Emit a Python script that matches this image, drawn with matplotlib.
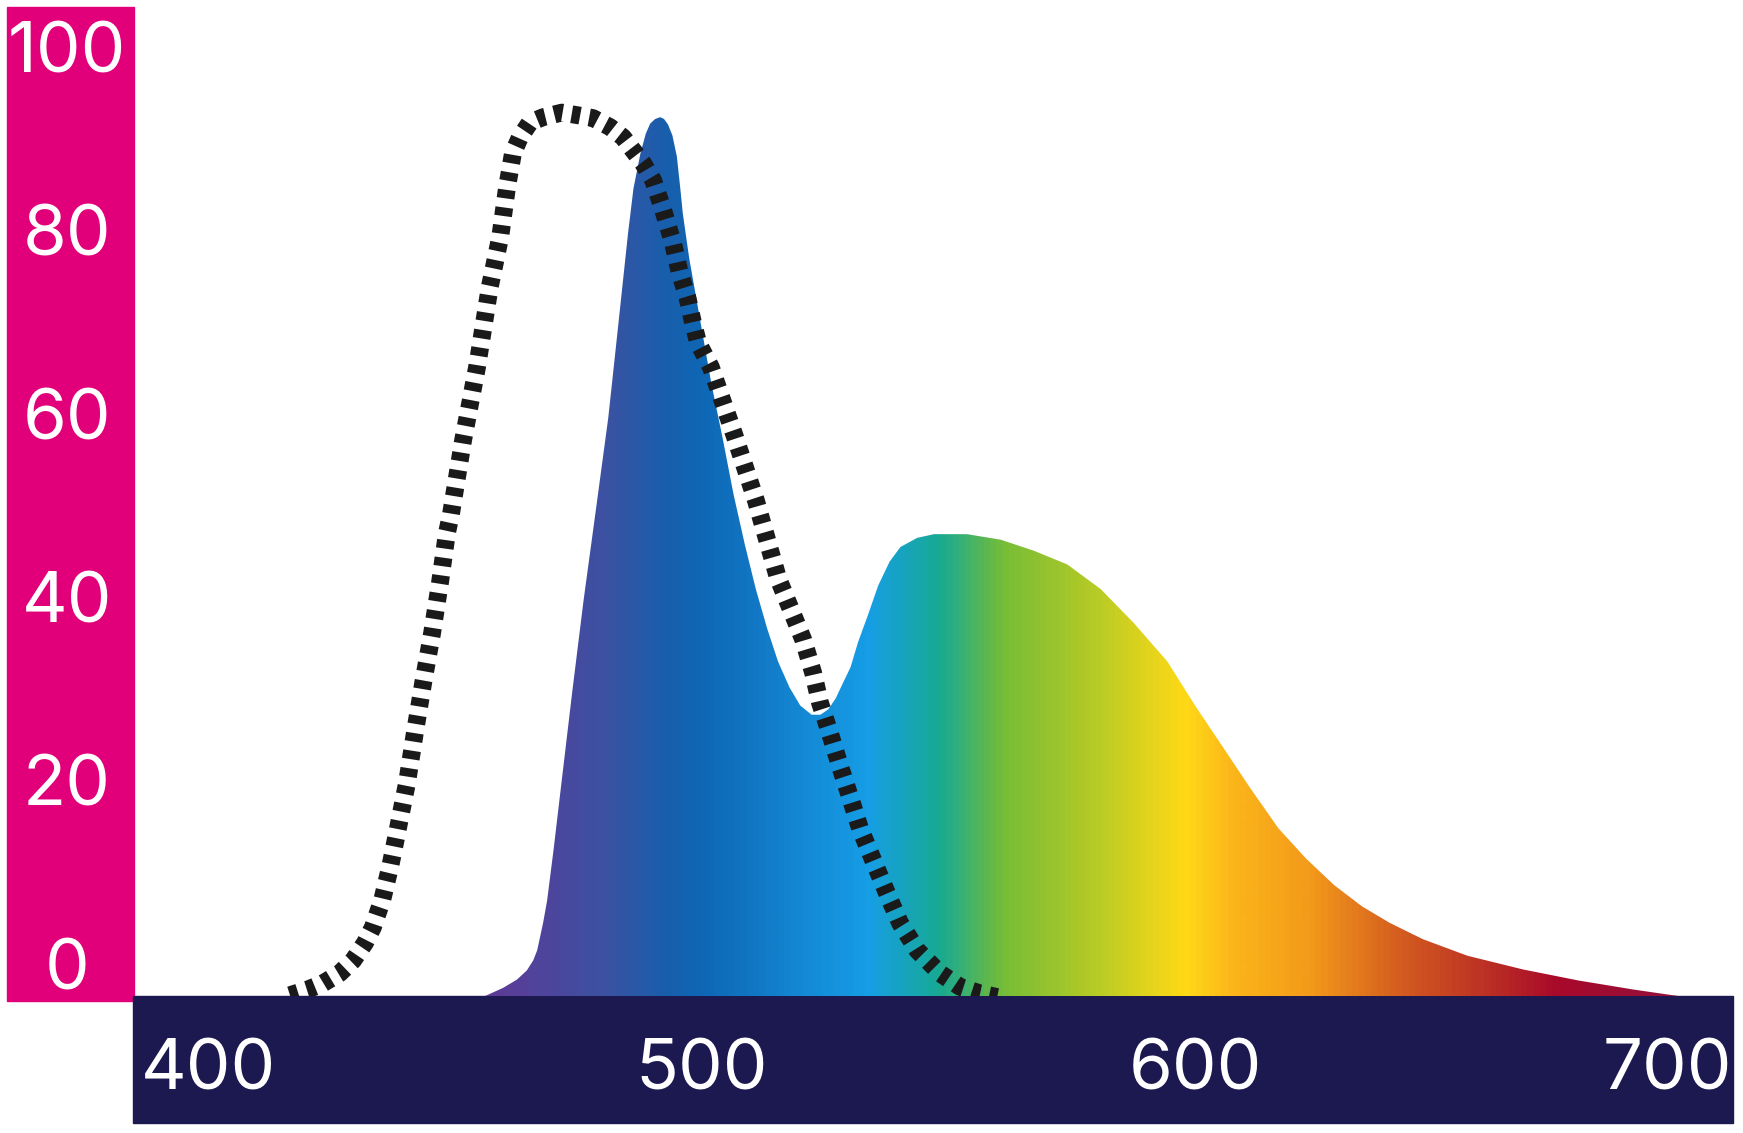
import matplotlib.pyplot as plt
import numpy as np
from matplotlib.colors import LinearSegmentedColormap, Normalize
from matplotlib.patches import Rectangle

# emission spectrum (wavelength nm, relative intensity)
spec_nm = [455.7, 459.8, 462.6, 464.6, 465.9, 466.7, 467.9, 468.7, 470.0, 471.6,
           473.8, 476.1, 478.6, 481.1, 483.1, 485.1, 486.2, 487.6, 488.7, 489.6,
           490.6, 491.6, 492.4, 493.2, 494.1, 495.0, 495.7, 496.2, 497.5, 499.8,
           502.0, 504.3, 506.5, 508.8, 511.0, 513.3, 515.5, 517.8, 520.0, 522.3,
           524.1, 525.7, 527.2, 528.6, 530.2, 531.7, 533.6, 535.8, 538.1, 540.3,
           543.7, 547.1, 553.8, 560.6, 567.3, 574.1, 580.9, 587.6, 594.4, 600.0,
           605.6, 611.3, 616.9, 622.5, 628.2, 633.8, 639.4, 646.2, 655.2, 666.5,
           677.7, 689.0, 698.0]
spec_val = [-3.6, -2.6, -1.7, -0.7, 0.4, 1.5, 4.5, 6.9, 12.4, 19.7,
            29.7, 39.7, 49.6, 59.6, 69.6, 79.7, 84.6, 88.4, 90.6, 91.7,
            92.2, 92.4, 92.2, 91.6, 90.4, 88.1, 84.6, 81.9, 77.0, 70.0,
            63.3, 57.3, 51.2, 45.7, 40.9, 36.6, 33.0, 30.2, 28.2, 27.2,
            27.2, 27.8, 29.0, 30.6, 32.4, 35.1, 37.9, 41.3, 43.9, 45.5,
            46.5, 46.9, 46.9, 46.3, 45.1, 43.6, 40.9, 37.2, 33.0, 28.2,
            23.7, 19.1, 14.8, 11.5, 8.6, 6.3, 4.5, 2.7, 0.9, -0.6,
            -1.8, -2.8, -3.5]

# sensitivity curve (dotted)
sens_nm = [416.6, 420.1, 423.3, 426.7, 429.4, 431.8, 433.4, 435.3, 436.9, 438.3,
           440.3, 441.9, 443.6, 445.4, 447.0, 448.4, 449.2, 451.7, 454.5, 457.1,
           459.2, 460.6, 461.8, 463.2, 465.2, 467.9, 471.7, 475.0, 478.0, 481.5,
           484.1, 486.1, 488.1, 490.2, 492.2, 494.2, 495.6, 497.1, 498.3, 499.3,
           501.9, 506.6, 511.0, 515.5, 520.6, 522.6, 524.0, 526.0, 528.1, 530.1,
           532.1, 534.8, 537.6, 540.2, 543.7, 548.3, 552.4, 556.4, 559.9]
sens_val = [-3.4, -2.8, -2.1, -1.0, 0.4, 2.3, 4.0, 7.0, 10.6, 14.3,
            19.7, 25.2, 30.7, 36.1, 41.6, 47.0, 49.0, 57.2, 65.1, 73.9,
            79.3, 84.8, 88.5, 90.2, 91.8, 92.4, 92.9, 92.6, 92.3, 91.3,
            90.2, 88.8, 87.4, 85.5, 82.3, 78.7, 75.4, 72.8, 69.9, 67.8,
            65.1, 57.8, 50.6, 42.1, 35.4, 31.8, 28.5, 25.2, 21.5, 18.2,
            14.8, 11.3, 7.7, 4.5, 1.5, -1.0, -2.5, -3.2, -3.6]

x_ticks = [400, 500, 600, 700]
y_ticks = [0, 20, 40, 60, 80, 100]

# spectral colours along the wavelength axis
grad_nm = [456.3, 471.3, 480.4, 491.6, 499.7, 509.8, 520.0, 533.7, 548.3,
           561.5, 578.7, 598.0, 608.1, 623.3, 642.6, 661.8, 674.0, 694.2]
grad_col = ["#5e3a96", "#4a489e", "#3b52a2", "#1a5eab", "#0e67b5", "#1176c3",
            "#1488d4", "#169ee6", "#18aa92", "#78bd36", "#b2ca27", "#ffd916",
            "#fbb51a", "#f39a1a", "#d35a20", "#b82a25", "#a8092a", "#96103a"]

PINK = "#e2007a"
NAVY = "#1c1850"
FONT = ["Inter", "DejaVu Sans"]

W, H = 1743, 1133
fig = plt.figure(figsize=(W / 100, H / 100), dpi=100)
fig.patch.set_facecolor("white")
ax = fig.add_axes([134 / W, 1 - 996 / H, 1599 / W, 989 / H])
ax.patch.set_alpha(0)

xlim = (385.0, 709.0)
ylim = (-3.49, 104.42)
ax.set_xlim(*xlim)
ax.set_ylim(*ylim)
ax.axis("off")

# coloured boxes behind the tick labels
fig.add_artist(Rectangle((7 / W, 1 - 1001 / H), 127 / W, 994 / H,
                         transform=fig.transFigure, color=PINK, zorder=-1))
fig.add_artist(Rectangle((133 / W, 1 - 1123 / H), 1600 / W, 127 / H,
                         transform=fig.transFigure, color=NAVY, zorder=-1))

# gradient fill clipped by the spectrum
lo, hi = xlim
stops = [0.0] + [(v - lo) / (hi - lo) for v in grad_nm] + [1.0]
cols = [grad_col[0]] + grad_col + [grad_col[-1]]
cmap = LinearSegmentedColormap.from_list("spec", list(zip(stops, cols)))
grad = np.linspace(lo, hi, 1600)[None, :]
im = ax.imshow(grad, extent=[lo, hi, ylim[0], ylim[1]], aspect="auto",
               cmap=cmap, norm=Normalize(lo, hi), origin="lower",
               interpolation="bilinear", zorder=1)
poly = ax.fill_between(spec_nm, spec_val, ylim[0], facecolor="none",
                       edgecolor="none")
im.set_clip_path(poly.get_paths()[0], transform=ax.transData)

# dotted sensitivity curve
ax.plot(sens_nm, sens_val, color="#1a1a1a", lw=12.8,
        linestyle=(0, (0.48, 0.52)), dash_capstyle="butt", zorder=3)

# tick labels
for v in y_ticks:
    ax.text(-0.0419, v - 2.73, str(v), transform=ax.get_yaxis_transform(),
            ha="center", va="baseline", color="white", fontsize=51,
            family=FONT, clip_on=False)

for v in x_ticks:
    shift = -15 if v == 700 else 0
    ax.annotate(str(v), xy=(v, -0.095), xycoords=ax.get_xaxis_transform(),
                xytext=(shift, 0), textcoords="offset points",
                ha="center", va="baseline", color="white", fontsize=51,
                family=FONT, annotation_clip=False)

fig.savefig("out.png", dpi=100)
